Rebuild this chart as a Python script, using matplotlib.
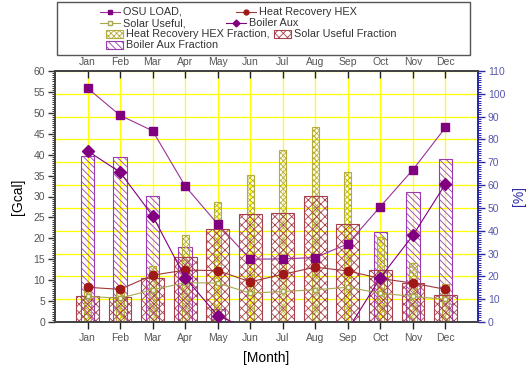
import numpy as np
import matplotlib
matplotlib.use("Agg")
import matplotlib.pyplot as plt
from matplotlib.lines import Line2D
from matplotlib.patches import Rectangle
from matplotlib.ticker import MultipleLocator

plt.rcParams['font.family'] = ['Liberation Sans', 'DejaVu Sans']
plt.rcParams['hatch.linewidth'] = 0.6

months = ['Jan', 'Feb', 'Mar', 'Apr', 'May', 'Jun', 'Jul', 'Aug', 'Sep', 'Oct', 'Nov', 'Dec']
osu_load = [55.9, 49.4, 45.7, 32.5, 23.4, 15.0, 15.1, 15.4, 18.7, 27.6, 36.4, 46.5]
heat_recovery = [8.3, 7.8, 11.2, 12.4, 12.3, 9.6, 11.4, 13.1, 12.2, 10.4, 9.3, 7.8]
solar_useful = [6.1, 5.7, 7.7, 9.4, 9.3, 6.9, 7.3, 7.7, 8.3, 6.9, 6.1, 5.4]
boiler_aux = [40.9, 35.8, 25.4, 10.6, 1.5, -1.8, -1.8, -1.8, -1.8, 10.6, 20.7, 33.0]

hex_fraction = [14.8, 15.8, 24.5, 38.2, 52.8, 64.5, 75.2, 85.5, 65.8, 37.4, 25.9, 16.8]
solar_fraction = [11.5, 10.8, 19.2, 28.4, 40.7, 47.2, 47.7, 55.4, 42.8, 22.9, 17.0, 11.7]
boiler_fraction = [72.9, 72.5, 55.4, 32.8, 5.8, 0, 0, 0, 0, 39.3, 56.9, 71.3]

W, H = 530, 366
fig = plt.figure(figsize=(W / 100, H / 100), dpi=100)
L, R, T, B = 55, 478, 71, 322
ax = fig.add_axes([L / W, 1 - B / H, (R - L) / W, (B - T) / H])
ax2 = ax.twinx()
ax.set_zorder(ax2.get_zorder() + 1)
ax.patch.set_visible(False)

x = np.arange(1, 13)

C_BOIL_BAR = '#9a3cb0'
C_HEX_BAR = '#b5ad3a'
C_SOL_BAR = '#a8404c'
C_OSU = '#800080'
C_HEX = '#a01818'
C_SOL = '#a8a850'
C_BLUE = '#2a2aa8'

# bars (right axis, %)
ax2.bar(x, boiler_fraction, width=0.42, facecolor='none', edgecolor=C_BOIL_BAR,
        hatch='\\\\\\\\\\', lw=0.8, zorder=2)
ax2.bar(x, hex_fraction, width=0.22, facecolor='none', edgecolor=C_HEX_BAR,
        hatch='xxxxxx', lw=0.8, zorder=3)
ax2.bar(x, solar_fraction, width=0.70, facecolor='none', edgecolor=C_SOL_BAR,
        hatch='xxxx', lw=0.8, zorder=4)

ax2.set_ylim(0, 110)
ax2.yaxis.set_major_locator(MultipleLocator(10))
ax2.yaxis.set_minor_locator(MultipleLocator(1))
ax2.set_axisbelow(True)
ax2.xaxis.set_visible(True)
ax2.tick_params(axis='x', length=0, labelbottom=False, labeltop=False)
ax2.grid(True, which='major', axis='both', color='#ffff00', lw=0.9)
ax2.tick_params(axis='y', which='major', direction='out', length=5, width=1,
                color=C_BLUE, labelcolor='#5a5aa8', labelsize=7.5, pad=2)
ax2.tick_params(axis='y', which='minor', direction='out', length=2.5, width=0.7,
                color=C_BLUE)
ax2.set_ylabel('[%]', color=C_BLUE, fontsize=10, labelpad=5)

# lines (left axis, Gcal)
ax.plot(x, osu_load, color='#993399', lw=0.8, marker='s', ms=6,
        mfc=C_OSU, mec=C_OSU, zorder=5)
ax.plot(x, solar_useful, color=C_SOL, lw=0.8, marker='s', ms=2.5,
        mfc='white', mec=C_SOL, zorder=5)
ax.plot(x, heat_recovery, color='#a03838', lw=0.8, marker='o', ms=6,
        mfc=C_HEX, mec=C_HEX, zorder=6)
ax.plot(x, boiler_aux, color=C_OSU, lw=0.8, marker='D', ms=6.5,
        mfc=C_OSU, mec=C_OSU, zorder=6)

ax.set_xlim(0, 13)
ax.set_ylim(0, 60)
ax.set_xticks(x, months)
ax.yaxis.set_major_locator(MultipleLocator(5))
ax.yaxis.set_minor_locator(MultipleLocator(0.5))
ax.tick_params(axis='x', direction='out', length=5, width=1, color='#222',
               labelcolor='#555', labelsize=7.5, pad=3)
ax.tick_params(axis='y', which='major', direction='out', length=5, width=1,
               color='#333', labelcolor='#555', labelsize=7.5, pad=2)
ax.tick_params(axis='y', which='minor', direction='out', length=2.5, width=0.7,
               color='#333')
ax.set_ylabel('[Gcal]', fontsize=10, labelpad=6)
ax.set_xlabel('[Month]', fontsize=10, labelpad=6)

top = ax.secondary_xaxis('top')
top.set_xticks(x, months)
top.tick_params(direction='in', length=5, width=1, color='#222',
                labelcolor='#555', labelsize=7.5, pad=3)

for a in (ax, ax2):
    for s in ('left', 'bottom', 'top'):
        a.spines[s].set_color('#444')
        a.spines[s].set_linewidth(1.3)
    a.spines['right'].set_color(C_BLUE)
    a.spines['right'].set_linewidth(1.3)
top.spines['top'].set_color('#444')
top.spines['top'].set_linewidth(1.3)

# legend (figure pixels)
def fx(px):
    return px / W

def fy(py):
    return 1 - py / H

fig.add_artist(Rectangle((fx(57), fy(55)), fx(470) - fx(57), (55 - 2) / H,
                         transform=fig.transFigure, fill=False, ec='#555', lw=1))

LFS = 7.8
ROWS = [12, 23, 34, 45]

def leg_line(x0, y, color, marker, ms, mfc, mec, label):
    fig.add_artist(Line2D([fx(x0), fx(x0 + 20)], [fy(y), fy(y)], transform=fig.transFigure,
                          color=color, lw=0.8))
    fig.add_artist(Line2D([fx(x0 + 10)], [fy(y)], transform=fig.transFigure,
                          ls='none', marker=marker, ms=ms, mfc=mfc, mec=mec))
    fig.text(fx(x0 + 23), fy(y), label, fontsize=LFS, va='center', ha='left', color='#333')

def leg_patch(x0, y, ec, hatch, label):
    fig.add_artist(Rectangle((fx(x0), fy(y + 3.5)), 17 / W, 7 / H, transform=fig.transFigure,
                             facecolor='none', edgecolor=ec, hatch=hatch, lw=0.8))
    return fig.text(fx(x0 + 20), fy(y), label, fontsize=LFS, va='center', ha='left', color='#333')

leg_line(100, ROWS[0], '#993399', 's', 3.5, C_OSU, C_OSU, 'OSU LOAD,')
leg_line(236, ROWS[0], '#a03838', 'o', 3.5, C_HEX, C_HEX, 'Heat Recovery HEX')
leg_line(100, ROWS[1], C_SOL, 's', 2.5, 'white', C_SOL, 'Solar Useful,')
leg_line(226, ROWS[1], C_OSU, 'D', 3.5, C_OSU, C_OSU, 'Boiler Aux')
t = leg_patch(106, ROWS[2], C_HEX_BAR, 'xxxxxx', 'Heat Recovery HEX Fraction,')
fig.canvas.draw()
bb = t.get_window_extent()
leg_patch(bb.x1 + 4, ROWS[2], C_SOL_BAR, 'xxxx', 'Solar Useful Fraction')
leg_patch(106, ROWS[3], C_BOIL_BAR, '\\\\\\\\\\', 'Boiler Aux Fraction')

fig.savefig('out.png', dpi=100)
